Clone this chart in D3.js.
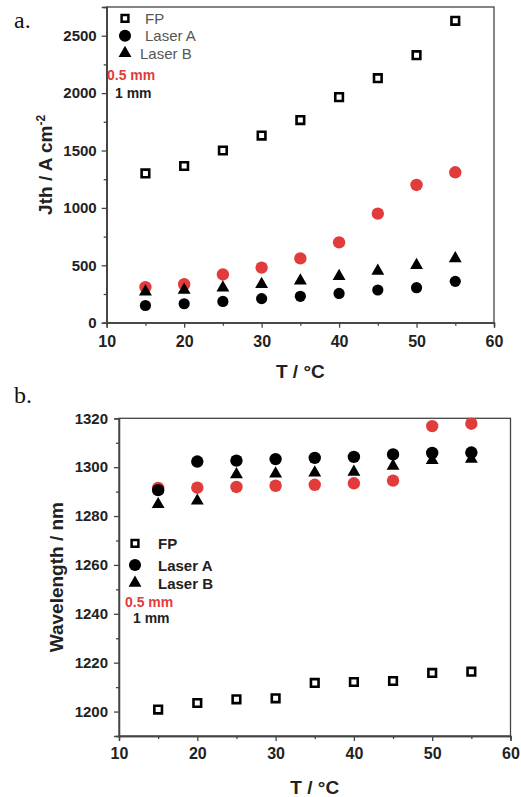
<!DOCTYPE html>
<html>
<head>
<meta charset="utf-8">
<script src="https://cdn.jsdelivr.net/npm/d3@7"></script>
<style>
  body { margin: 0; background: #fff; }
  svg { display: block; font-family: "Liberation Sans", Arial, sans-serif; }
</style>
</head>
<body>
<div id="graph"></div>
<script>
// temperatures (x for both panels)
var temps = [15, 20, 25, 30, 35, 40, 45, 50, 55];

// panel a: threshold current density, A cm-2
var jthFP = [1300, 1365, 1500, 1630, 1765, 1965, 2130, 2330, 2630];
var jthA05 = [310, 335, 420, 480, 560, 700, 950, 1200, 1310];
var jthA1 = [150, 165, 185, 210, 230, 255, 285, 305, 360];
var jthB1 = [270, 285, 305, 335, 365, 405, 450, 500, 560];

// panel b: wavelength, nm
var wlFP = [1200.8, 1203.5, 1205, 1205.4, 1211.7, 1212.1, 1212.5, 1215.8, 1216.3];
var wlA05 = [1291.5, 1291.6, 1291.9, 1292.4, 1292.8, 1293.4, 1294.5, 1316.8, 1317.8];
var wlA1 = [1290.6, 1302.3, 1302.7, 1303.3, 1303.8, 1304.2, 1305.2, 1305.8, 1306];
var wlB1 = [1284.8, 1286.2, 1297, 1297.3, 1297.7, 1298, 1300.5, 1302.8, 1303.3];

var xTicks = [10, 20, 30, 40, 50, 60];
var xMinor = [15, 25, 35, 45, 55];
var jthTicks = [0, 500, 1000, 1500, 2000, 2500];
var jthMinor = [250, 750, 1250, 1750, 2250];
var wlTicks = [1200, 1220, 1240, 1260, 1280, 1300, 1320];
var wlMinor = [1210, 1230, 1250, 1270, 1290, 1310];

var legendNames = ["FP", "Laser A", "Laser B"];
var red = "#e23b3b";

var svg = d3.select("#graph").append("svg")
    .attr("width", 521).attr("height", 797);

function drawPanel(p) {
    var x = d3.scaleLinear().domain([10, 60]).range([p.left, p.right]);
    var y = d3.scaleLinear().domain(p.yDomain).range([p.bottom, p.top]);
    var g = svg.append("g");

    // frame
    g.append("rect")
        .attr("x", p.left).attr("y", p.top)
        .attr("width", p.right - p.left).attr("height", p.bottom - p.top)
        .attr("fill", "none").attr("stroke", "#444").attr("stroke-width", 1.3);

    var xAxis = g.append("g")
        .attr("transform", "translate(0," + p.bottom + ")")
        .call(d3.axisBottom(x).tickValues(xTicks).tickSize(5).tickPadding(p.xPad).tickFormat(d3.format("d")));
    g.append("g")
        .attr("transform", "translate(0," + p.bottom + ")")
        .call(d3.axisBottom(x).tickValues(xMinor).tickSize(3).tickFormat(""));
    g.append("g")
        .attr("transform", "translate(" + p.left + ",0)")
        .call(d3.axisLeft(y).tickValues(p.yTicks).tickSize(5).tickPadding(p.yPad).tickFormat(d3.format("d")));
    g.append("g")
        .attr("transform", "translate(" + p.left + ",0)")
        .call(d3.axisLeft(y).tickValues(p.yMinor).tickSize(3).tickFormat(""));

    g.selectAll(".domain").attr("stroke", "#444").attr("stroke-width", 1.3);
    g.selectAll(".tick line").attr("stroke", "#444").attr("stroke-width", 1.3);
    g.selectAll(".tick text")
        .style("font-family", "Liberation Sans, Arial, sans-serif")
        .attr("font-weight", "bold").attr("font-size", 15).attr("fill", "#222");
    xAxis.selectAll(".tick text").attr("font-size", 16);

    // axis titles
    g.append("text")
        .attr("x", (p.left + p.right) / 2).attr("y", p.xTitleY)
        .attr("text-anchor", "middle").attr("font-weight", "bold")
        .attr("font-size", 19).attr("fill", "#222")
        .text("T / \u00B0C");
    var yt = g.append("text")
        .attr("transform", "translate(" + p.yTitleX + "," + (p.top + p.bottom) / 2 + ") rotate(-90)")
        .attr("text-anchor", "middle").attr("font-weight", "bold")
        .attr("font-size", 19).attr("fill", "#222");
    if (p.name === "a.") {
        yt.append("tspan").text("Jth / A cm");
        yt.append("tspan").attr("dy", -7).attr("font-size", 12).text("-2");
    } else {
        yt.text("Wavelength / nm");
    }

    // panel letter
    svg.append("text")
        .attr("x", 14).attr("y", p.letterY)
        .style("font-family", "'Liberation Serif', 'Times New Roman', serif")
        .attr("font-size", 24).attr("fill", "#111")
        .text(p.name);

    var sym = function(type, size) { return d3.symbol().type(type).size(size)(); };

    // red circles (0.5 mm, Laser A)
    g.selectAll(".red").data(temps).enter().append("circle")
        .attr("cx", function(d) { return x(d); })
        .attr("cy", function(d, i) { return y(p.a05[i]); })
        .attr("r", 6.2).attr("fill", red);
    // black circles (1 mm, Laser A)
    g.selectAll(".blk").data(temps).enter().append("circle")
        .attr("cx", function(d) { return x(d); })
        .attr("cy", function(d, i) { return y(p.a1[i]); })
        .attr("r", p.blackR).attr("fill", "#000");
    // triangles (Laser B)
    g.selectAll(".tri").data(temps).enter().append("path")
        .attr("d", sym(d3.symbolTriangle, 72))
        .attr("transform", function(d, i) { return "translate(" + x(d) + "," + y(p.b1[i]) + ")"; })
        .attr("fill", "#000");
    // open squares (FP)
    g.selectAll(".sq").data(temps).enter().append("path")
        .attr("d", sym(d3.symbolSquare, 58))
        .attr("transform", function(d, i) { return "translate(" + x(d) + "," + y(p.fp[i]) + ")"; })
        .attr("fill", "#fff").attr("stroke", "#000").attr("stroke-width", 2.6);

    // legend
    var lg = svg.append("g");
    var markers = [sym(d3.symbolSquare, 46), sym(d3.symbolCircle, 115), sym(d3.symbolTriangle, 72)];
    legendNames.forEach(function(name, i) {
        var ly = p.legY[i];
        var m = lg.append("path")
            .attr("d", markers[i])
            .attr("transform", "translate(" + p.legMX + "," + ly + ")");
        if (i === 0) m.attr("fill", "#fff").attr("stroke", "#000").attr("stroke-width", 2.5);
        else m.attr("fill", "#000");
        lg.append("text")
            .attr("x", p.legTX[i]).attr("y", ly + 5.5)
            .attr("font-size", 15)
            .attr("font-weight", p.legBold ? "bold" : "normal")
            .attr("fill", p.legBold ? "#222" : "#555")
            .text(name);
    });
    lg.append("text")
        .attr("x", p.mm05[0]).attr("y", p.mm05[1])
        .attr("font-size", 14).attr("font-weight", "bold").attr("fill", red)
        .text("0.5 mm");
    lg.append("text")
        .attr("x", p.mm1[0]).attr("y", p.mm1[1])
        .attr("font-size", 14).attr("font-weight", "bold").attr("fill", "#222")
        .text("1 mm");
}

drawPanel({
    name: "a.", letterY: 28,
    left: 106.7, right: 494, top: 7, bottom: 322.7,
    yDomain: [0, 2750], yTicks: jthTicks, yMinor: jthMinor,
    xPad: 8, yPad: 5, xTitleY: 378, yTitleX: 52,
    fp: jthFP, a05: jthA05, a1: jthA1, b1: jthB1, blackR: 5.6,
    legMX: 125, legY: [18.3, 35.7, 53.3], legTX: [145, 145, 140], legBold: false,
    mm05: [107, 80], mm1: [115, 98]
});

drawPanel({
    name: "b.", letterY: 403,
    left: 119, right: 510.5, top: 418.3, bottom: 736,
    yDomain: [1190, 1320], yTicks: wlTicks, yMinor: wlMinor,
    xPad: 7, yPad: 6, xTitleY: 794, yTitleX: 63,
    fp: wlFP, a05: wlA05, a1: wlA1, b1: wlB1, blackR: 6.2,
    legMX: 135, legY: [543.3, 565, 583], legTX: [158, 158, 158], legBold: true,
    mm05: [125, 606.7], mm1: [133, 623]
});
</script>
</body>
</html>
